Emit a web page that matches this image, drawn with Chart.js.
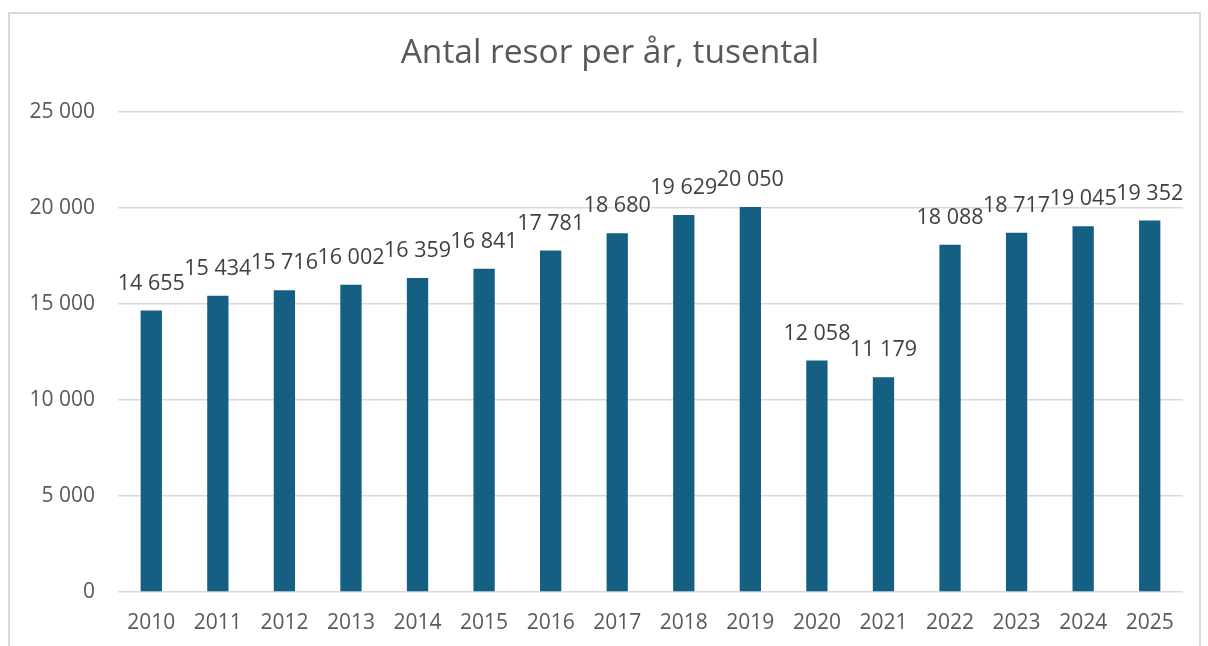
<!DOCTYPE html>
<html>
<head>
<meta charset="utf-8">
<script src="https://cdn.jsdelivr.net/npm/chart.js@4/dist/chart.umd.min.js"></script>
<style>
html,body{margin:0;padding:0;background:#fff;}
#wrap{width:1208px;height:646px;position:relative;}
</style>
</head>
<body>
<div id="wrap"><canvas id="c" width="1208" height="646"></canvas></div>
<script>
const TITLE = "Antal resor per år, tusental";
const years = ["2010","2011","2012","2013","2014","2015","2016","2017","2018","2019","2020","2021","2022","2023","2024","2025"];
const trips = [14655,15434,15716,16002,16359,16841,17781,18680,19629,20050,12058,11179,18088,18717,19045,19352];
const yTicks = [0,5000,10000,15000,20000,25000];

const FONT = "'Open Sans', 'Liberation Sans', sans-serif";
function fmt(v){ return String(v).replace(/\B(?=(\d{3})+(?!\d))/g, " "); }

const framePlugin = {
  id:'frame',
  beforeDraw(chart){
    const ctx = chart.ctx;
    ctx.save();
    ctx.strokeStyle = '#d9d9d9';
    ctx.lineWidth = 2;
    ctx.strokeRect(9, 13, 1191, 700);
    ctx.fillStyle = '#595959';
    ctx.font = "33.5px " + FONT;
    ctx.textAlign = 'center';
    ctx.textBaseline = 'middle';
    ctx.fillText(TITLE, 610, 53);
    ctx.restore();
  }
};
const labelPlugin = {
  id:'vals',
  afterDatasetsDraw(chart){
    const ctx = chart.ctx;
    const meta = chart.getDatasetMeta(0);
    ctx.save();
    ctx.fillStyle = '#404040';
    ctx.font = "21.5px " + FONT;
    ctx.textAlign = 'center';
    ctx.textBaseline = 'middle';
    meta.data.forEach((bar,i)=>{
      ctx.fillText(fmt(chart.data.datasets[0].data[i]), bar.x, bar.y - 27);
    });
    ctx.restore();
  }
};

new Chart(document.getElementById('c'), {
  type:'bar',
  data:{ labels: years, datasets:[{ data: trips, backgroundColor:'#156082', borderWidth:0, categoryPercentage:1, barPercentage:0.32 }]},
  options:{
    responsive:false, animation:false,
    layout:{ padding:{ left:0, right:25, top:112, bottom:0 } },
    plugins:{ legend:{display:false}, title:{display:false}, tooltip:{enabled:false} },
    scales:{
      x:{
        grid:{ display:false },
        border:{ display:false },
        ticks:{ color:'#595959', font:{ family:FONT, size:21 }, padding:10, maxRotation:0 },
        afterFit(s){ s.height = 54; }
      },
      y:{
        min:0, max:25000,
        afterBuildTicks(s){ s.ticks = yTicks.map(v=>({value:v})); },
        grid:{ color:'#d9d9d9', lineWidth:1.5, drawTicks:false },
        border:{ display:false },
        ticks:{ color:'#595959', font:{ family:FONT, size:21 }, padding:23, callback:(v)=>fmt(v) },
        afterFit(s){ s.width = 118; }
      }
    }
  },
  plugins:[framePlugin, labelPlugin]
});
</script>
</body>
</html>
